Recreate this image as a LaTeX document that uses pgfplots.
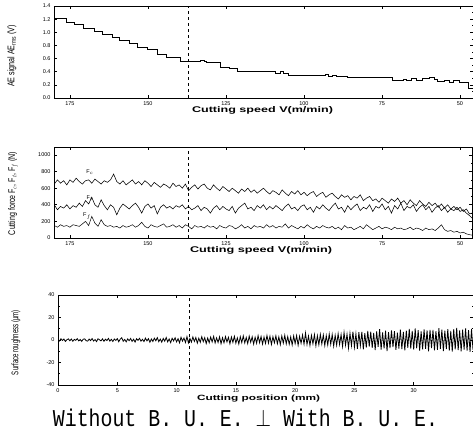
\documentclass[border=0pt]{standalone}
\usepackage{fontspec}
\setmainfont{Liberation Sans}
\setmonofont{Liberation Mono}
\usepackage{graphicx}
\usepackage{pgfplots}
\pgfplotsset{compat=1.18}

\pgfplotsset{
  panel/.style={
    scale only axis, anchor=south west,
    axis line style={line width=0.8pt},
    tick align=inside, major tick length=3pt, minor tick length=1.5pt,
    tick style={black, line width=0.6pt},
    tick label style={font=\fontsize{5.5}{6}\selectfont},
    /pgf/number format/assume math mode=true,
    /pgf/number format/1000 sep={},
    clip=true,
  },
}

\begin{document}
\begin{tikzpicture}[x=1pt,y=1pt]
\useasboundingbox (0,0) rectangle (473,431);

% ---------- AE signal ----------
\begin{axis}[panel, at={(54pt,333pt)}, width=419pt, height=92pt,
  x dir=reverse, xmin=45.8, xmax=180.1, ymin=0, ymax=1.4,
  xtick={175,150,125,100,75,50},
  ytick={0,0.2,0.4,0.6,0.8,1.0,1.2,1.4},
  yticklabel style={/pgf/number format/.cd,fixed,fixed zerofill,precision=1},
  minor y tick num=1]
\addplot[black, line width=0.9pt, const plot] coordinates {
(180,1.21) (176,1.15) (173.4,1.12) (170.8,1.06) (167,1.02) (164.7,0.97)
(161.5,0.92) (159,0.87) (155.8,0.83) (153.2,0.77) (150.3,0.74) (147.1,0.66)
(143.9,0.62) (139.7,0.56) (133,0.57) (132,0.55) (131.1,0.54) (126.9,0.46)
(124,0.45) (121.2,0.40) (110,0.41) (109,0.38) (107.5,0.40) (106.5,0.38)
(105.1,0.35) (93,0.36) (92,0.33) (91,0.35) (89.5,0.33) (86,0.31)
(71.5,0.26) (68,0.28) (67,0.26) (65.5,0.29) (64,0.27) (62,0.30)
(59.6,0.31) (58,0.28) (57.1,0.25) (55,0.27) (53.5,0.24) (52,0.26)
(50,0.23) (47.4,0.15) (45.8,0.15)
};
\addplot[black, dashed, line width=0.5pt] coordinates {(137,0) (137,1.4)};
\end{axis}

% ---------- Cutting force ----------
\begin{axis}[panel, at={(54pt,193pt)}, width=418pt, height=91pt,
  x dir=reverse, xmin=46.2, xmax=180.1, ymin=0, ymax=1096,
  xtick={175,150,125,100,75,50},
  ytick={0,200,400,600,800,1000},
  minor y tick num=1]
\addplot[black, line width=0.55pt] coordinates {
(180,650) (179,700) (178,660) (177,690) (176,640) (175,700) (174,670) (173,720)
(172,680) (171,650) (170,690) (169,700) (168,660) (167,710) (166,680) (165,650)
(164,690) (163,670) (162,700) (161,770) (160,680) (159,650) (158,690) (157,640)
(156,670) (155,700) (154,650) (153,680) (152,640) (151,690) (150,660) (149,620)
(148,670) (147,640) (146,610) (145,650) (144,630) (143,600) (142,660) (141,620)
(140,640) (139,600) (138,650) (137,570) (136,610) (135,640) (134,590) (133,630)
(132,650) (131,600) (130,580) (129,640) (128,600) (127,570) (126,620) (125,590)
(124,560) (123,600) (122,570) (121,540) (120,590) (119,560) (118,600) (117,550)
(116,580) (115,540) (114,570) (113,600) (112,560) (111,530) (110,570) (109,550)
(108,520) (107,580) (106,540) (105,510) (104,560) (103,530) (102,570) (101,520)
(100,550) (99,510) (98,540) (97,560) (96,500) (95,530) (94,550) (93,490)
(92,520) (91,540) (90,500) (89,470) (88,520) (87,490) (86,510) (85,460)
(84,500) (83,480) (82,520) (81,450) (80,480) (79,500) (78,450) (77,470)
(76,430) (75,480) (74,450) (73,420) (72,470) (71,440) (70,480) (69,420)
(68,450) (67,400) (66,460) (65,420) (64,390) (63,450) (62,410) (61,380)
(60,430) (59,390) (58,420) (57,370) (56,410) (55,360) (54,400) (53,350)
(52,380) (51,340) (50,370) (49,320) (48,350) (47,290) (46.2,300)
};
\addplot[black, line width=0.55pt] coordinates {
(180,400) (179,340) (178,380) (177,360) (176,400) (175,350) (174,390) (173,370)
(172,420) (171,380) (170,450) (169,410) (168,490) (167,400) (166,370) (165,460)
(164,390) (163,340) (162,400) (161,370) (160,280) (159,360) (158,410) (157,380)
(156,350) (155,390) (154,420) (153,370) (152,300) (151,380) (150,410) (149,360)
(148,390) (147,290) (146,370) (145,400) (144,360) (143,380) (142,350) (141,390)
(140,370) (139,400) (138,350) (137,380) (136,340) (135,360) (134,390) (133,330)
(132,370) (131,350) (130,300) (129,360) (128,390) (127,340) (126,380) (125,350)
(124,330) (123,380) (122,300) (121,360) (120,390) (119,420) (118,350) (117,370)
(116,330) (115,390) (114,360) (113,400) (112,340) (111,380) (110,350) (109,390)
(108,360) (107,330) (106,380) (105,410) (104,350) (103,370) (102,330) (101,380)
(100,400) (99,340) (98,370) (97,310) (96,380) (95,350) (94,400) (93,360)
(92,330) (91,380) (90,420) (89,350) (88,370) (87,310) (86,390) (85,340)
(84,380) (83,410) (82,330) (81,370) (80,350) (79,400) (78,320) (77,380)
(76,360) (75,410) (74,340) (73,380) (72,300) (71,390) (70,350) (69,420)
(68,330) (67,380) (66,360) (65,400) (64,320) (63,370) (62,400) (61,340)
(60,380) (59,310) (58,360) (57,390) (56,330) (55,370) (54,310) (53,350)
(52,330) (51,370) (50,320) (49,340) (48,300) (47,270) (46.2,240)
};
\addplot[black, line width=0.5pt] coordinates {
(180,150) (179,130) (178,160) (177,140) (176,150) (175,130) (174,160) (173,150)
(172,140) (171,170) (170,200) (169,150) (168,260) (167,180) (166,140) (165,220)
(164,160) (163,140) (162,150) (161,130) (160,140) (159,120) (158,150) (157,130)
(156,140) (155,160) (154,130) (153,150) (152,190) (151,140) (150,120) (149,160)
(148,140) (147,130) (146,150) (145,170) (144,130) (143,140) (142,160) (141,130)
(140,150) (139,120) (138,160) (137,140) (136,110) (135,150) (134,130) (133,140)
(132,120) (131,150) (130,130) (129,140) (128,110) (127,150) (126,130) (125,120)
(124,150) (123,140) (122,110) (121,130) (120,160) (119,120) (118,140) (117,110)
(116,150) (115,130) (114,140) (113,120) (112,160) (111,130) (110,150) (109,120)
(108,140) (107,130) (106,170) (105,120) (104,150) (103,130) (102,110) (101,140)
(100,120) (99,160) (98,130) (97,110) (96,140) (95,120) (94,150) (93,130)
(92,120) (91,140) (90,110) (89,130) (88,100) (87,150) (86,120) (85,130)
(84,100) (83,120) (82,140) (81,110) (80,160) (79,130) (78,100) (77,120)
(76,140) (75,110) (74,130) (73,120) (72,100) (71,130) (70,110) (69,120)
(68,100) (67,110) (66,130) (65,100) (64,120) (63,110) (62,90) (61,120)
(60,100) (59,110) (58,90) (57,120) (56,160) (55,100) (54,80) (53,90)
(52,70) (51,80) (50,60) (49,70) (48,50) (47,40) (46.2,35)
};
\addplot[black, dashed, line width=0.5pt] coordinates {(137,0) (137,1096)};
\node[font=\fontsize{5.5}{6}\selectfont] at (axis cs:168.6,790) {F$_{c}$};
\node[font=\fontsize{5.5}{6}\selectfont] at (axis cs:168.6,480) {F$_{t}$};
\node[font=\fontsize{5.5}{6}\selectfont] at (axis cs:169.5,265) {F$_{f}$};
\end{axis}

% ---------- Surface roughness ----------
\begin{axis}[panel, at={(58pt,46pt)}, width=415pt, height=90pt,
  xmin=0, xmax=35, ymin=-40, ymax=40,
  xtick={0,5,10,15,20,25,30},
  ytick={-40,-20,0,20,40},
  minor y tick num=1]
\addplot[black, line width=0.8pt] coordinates {
(0,0.6) (0.125,-0.9) (0.25,1.1) (0.375,-0.4) (0.5,0.8) (0.625,-1.3) (0.75,0.3) (0.875,1.0)
(1,-0.7) (1.125,0.9) (1.25,-1.1) (1.375,0.5) (1.5,-0.3) (1.625,1.2) (1.75,-0.8) (1.875,0.4)
(2,-1.2) (2.125,0.7) (2.25,1.0) (2.375,-0.6) (2.5,-1.0) (2.625,0.8) (2.75,-0.5) (2.875,1.3)
(3,-0.9) (3.125,0.4) (3.25,-1.4) (3.375,1.1) (3.5,0.2) (3.625,-0.8) (3.75,1.0) (3.875,-1.1)
(4,0.7) (4.125,-0.5) (4.25,1.4) (4.375,-1.0) (4.5,0.6) (4.625,-1.3) (4.75,0.9) (4.875,-0.4)
(5,1.2) (5.125,-1.5) (5.25,0.8) (5.375,2.0) (5.5,-1.1) (5.625,0.5) (5.75,-1.6) (5.875,1.0)
(6,-0.6) (6.125,1.4) (6.25,-1.2) (6.375,0.7) (6.5,-1.8) (6.625,1.1) (6.75,-0.3) (6.875,1.5)
(7,-1.0) (7.125,0.6) (7.25,-1.4) (7.375,1.7) (7.5,-0.8) (7.625,1.2) (7.75,-2.0) (7.875,0.9)
(8,-1.3) (8.125,1.6) (8.25,-0.7) (8.375,2.1) (8.5,-1.5) (8.625,0.8) (8.75,-1.9) (8.875,1.4)
(9,-1.1) (9.125,2.2) (9.25,-1.6) (9.375,0.9) (9.5,-2.3) (9.625,1.5) (9.75,-0.8) (9.875,2.0)
(10,-1.7) (10.125,1.2) (10.25,-2.5) (10.375,2.4) (10.5,-1.0) (10.625,1.8) (10.75,-2.2) (10.875,3.0)
(11,-2.6) (11.125,1.4) (11.25,-1.9) (11.375,2.7) (11.5,-1.3) (11.625,2.2) (11.75,-2.8) (11.875,1.6)
(12,-2.0) (12.125,2.9) (12.25,-1.5) (12.375,2.1) (12.5,-3.1) (12.625,1.8) (12.75,-2.4) (12.875,2.6)
(13,-1.7) (13.125,3.2) (13.25,-2.6) (13.375,1.9) (13.5,-2.2) (13.625,2.8) (13.75,-3.3) (13.875,2.0)
(14,-2.5) (14.125,3.0) (14.25,-1.8) (14.375,2.4) (14.5,-3.4) (14.625,2.7) (14.75,-2.1) (14.875,3.3)
(15,-2.8) (15.125,1.9) (15.25,-3.5) (15.375,2.9) (15.5,-2.3) (15.625,3.6) (15.75,-2.6) (15.875,2.2)
(16,-3.2) (16.125,3.4) (16.25,-2.0) (16.375,2.8) (16.5,-3.7) (16.625,2.5) (16.75,-2.9) (16.875,3.9)
(17,-2.4) (17.125,3.1) (17.25,-3.6) (17.375,2.6) (17.5,-3.0) (17.625,4.0) (17.75,-2.7) (17.875,3.3)
(18,-3.9) (18.125,2.9) (18.25,-2.5) (18.375,3.7) (18.5,-3.3) (18.625,2.8) (18.75,-4.1) (18.875,3.5)
(19,-2.8) (19.125,4.2) (19.25,-3.4) (19.375,3.0) (19.5,-3.8) (19.625,2.7) (19.75,-4.4) (19.875,3.6)
(20,-3.1) (20.125,3.9) (20.25,-4.6) (20.375,3.3) (20.5,-2.9) (20.625,4.4) (20.75,-3.7) (20.875,6.2)
(21,-4.0) (21.125,3.5) (21.25,-4.8) (21.375,4.1) (21.5,-3.4) (21.625,4.7) (21.75,-5.2) (21.875,3.8)
(22,-4.3) (22.125,5.0) (22.25,-3.6) (22.375,4.5) (22.5,-4.9) (22.625,3.9) (22.75,-4.4) (22.875,5.3)
(23,-3.9) (23.125,4.8) (23.25,-5.4) (23.375,4.2) (23.5,-4.6) (23.625,5.6) (23.75,-4.0) (23.875,4.9)
(24,-5.8) (24.125,6.7) (24.25,-4.5) (24.375,5.2) (24.5,-7.1) (24.625,6.0) (24.75,-5.0) (24.875,7.5)
(25,-6.4) (25.125,5.6) (25.25,-7.8) (25.375,6.9) (25.5,-5.3) (25.625,7.2) (25.75,-8.4) (25.875,6.1)
(26,-6.8) (26.125,8.0) (26.25,-5.9) (26.375,7.4) (26.5,-7.0) (26.625,6.3) (26.75,-8.9) (26.875,7.7)
(27,-6.1) (27.125,9.6) (27.25,-8.5) (27.375,6.8) (27.5,-7.5) (27.625,8.2) (27.75,-9.8) (27.875,7.0)
(28,-7.2) (28.125,8.6) (28.25,-6.4) (28.375,7.9) (28.5,-8.8) (28.625,6.6) (28.75,-7.6) (28.875,9.1)
(29,-8.0) (29.125,7.3) (29.25,-9.3) (29.375,8.4) (29.5,-6.9) (29.625,9.9) (29.75,-7.7) (29.875,8.1)
(30,-8.6) (30.125,10.2) (30.25,-7.4) (30.375,8.8) (30.5,-9.5) (30.625,7.6) (30.75,-8.3) (30.875,9.4)
(31,-7.9) (31.125,8.5) (31.25,-10.1) (31.375,9.0) (31.5,-7.3) (31.625,8.9) (31.75,-9.2) (31.875,7.8)
(32,-8.7) (32.125,10.5) (32.25,-7.8) (32.375,9.3) (32.5,-9.9) (32.625,8.2) (32.75,-8.1) (32.875,9.7)
(33,-9.4) (33.125,8.0) (33.25,-10.3) (33.375,9.6) (33.5,-8.4) (33.625,10.8) (33.75,-9.0) (33.875,8.5)
(34,-10.0) (34.125,9.2) (34.25,-8.6) (34.375,10.4) (34.5,-9.5) (34.625,8.7) (34.75,-10.6) (34.875,9.8)
(35,-8.8)
};
\addplot[black, dashed, line width=0.5pt] coordinates {(11.05,-40) (11.05,40)};
\end{axis}

% ---------- axis titles ----------
\node[rotate=90, inner sep=0] at (12,375) {\resizebox{62pt}{7pt}{AE signal AE$_{\mathrm{rms}}$ (V)}};
\node[rotate=90, inner sep=0] at (13,237.5) {\resizebox{83pt}{7pt}{Cutting force F$_{c}$, F$_{t}$, F$_{f}$ (N)}};
\node[rotate=90, inner sep=0] at (16,88.5) {\resizebox{65pt}{7pt}{Surface roughness (μm)}};

\node[inner sep=0] at (262.5,321) {\resizebox{141pt}{6pt}{\bfseries Cutting speed V(m/min)}};
\node[inner sep=0] at (261,181) {\resizebox{142pt}{6pt}{\bfseries Cutting speed V(m/min)}};
\node[inner sep=0] at (258.5,32) {\resizebox{123pt}{5.5pt}{\bfseries Cutting position (mm)}};

\node[inner sep=0] at (245.5,13) {\resizebox{385pt}{17.5pt}{\ttfamily Without B. U. E. $\perp$ With B. U. E.}};
\end{tikzpicture}
\end{document}
